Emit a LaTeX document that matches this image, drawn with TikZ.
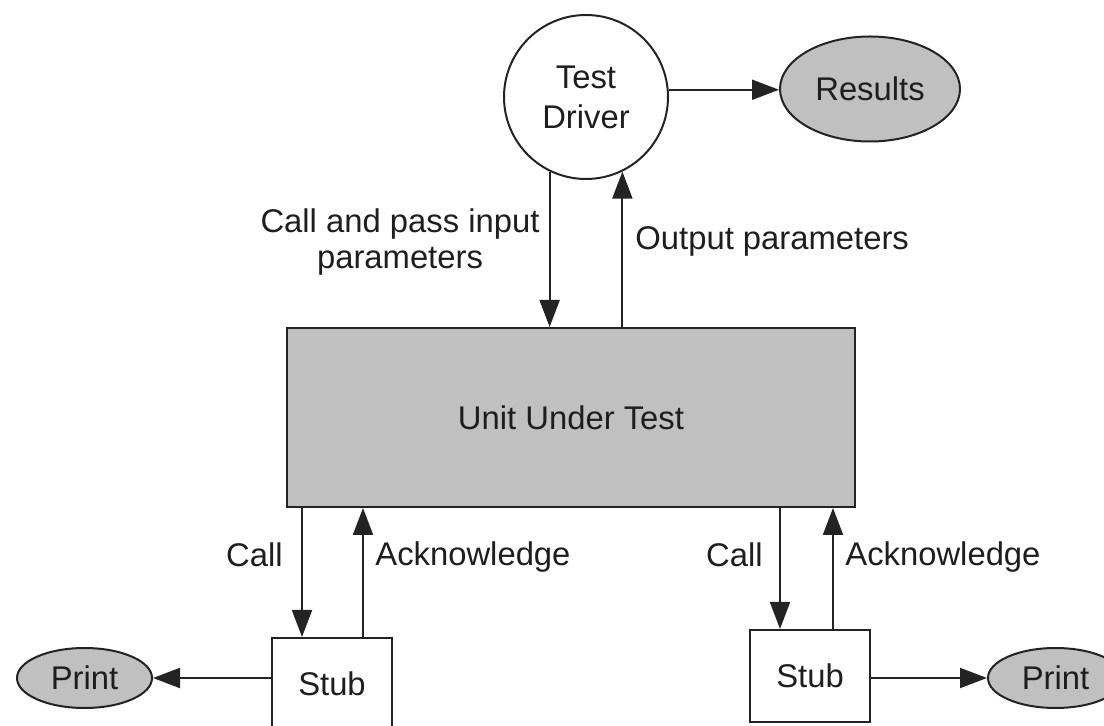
\documentclass[tikz,border=0pt]{standalone}
\usepackage{fontspec}
\setmainfont{Liberation Sans}
\usetikzlibrary{arrows.meta,shapes.geometric}
\definecolor{fillgray}{RGB}{192,192,192}
\definecolor{linecol}{RGB}{35,35,35}
\begin{document}
\begin{tikzpicture}[x=0.5pt,y=-0.5pt,
  every node/.style={font=\fontsize{16.4}{18}\selectfont, text={rgb,255:red,30;green,30;blue,30}},
  box/.style={draw=linecol, line width=1pt, inner sep=0pt},
  shade/.style={fill=fillgray},
  arr/.style={draw=linecol, line width=1pt, -{Triangle[length=13.5pt,width=10pt]}},
  lbl/.style={inner sep=0pt}
]
\useasboundingbox (0,0) rectangle (1104,726);
% nodes
\node[box, circle, minimum size=82pt, align=center, font=\fontsize{16.4}{20}\selectfont] (driver) at (586,97) {Test\\Driver};
\node[box, ellipse, shade, minimum width=90pt, minimum height=52.5pt] (results) at (870,89) {Results};
\node[box, rectangle, shade, minimum width=284pt, minimum height=89.5pt] (uut) at (571,417.5) {Unit Under Test};
\node[box, rectangle, minimum width=60pt, minimum height=46pt] (stubL) at (332,684) {Stub};
\node[box, rectangle, minimum width=60pt, minimum height=46pt] (stubR) at (810,676) {Stub};
\node[box, ellipse, shade, minimum width=67.5pt, minimum height=30pt] (printL) at (84.5,678) {Print};
\node[box, ellipse, shade, minimum width=67.5pt, minimum height=30pt] (printR) at (1055.5,678) {Print};
% helper coordinates on stubs
\coordinate (cL) at ([xshift=-15pt]stubL.north);
\coordinate (aL) at ([xshift=15.5pt]stubL.north);
\coordinate (cR) at ([xshift=-15pt]stubR.north);
\coordinate (aR) at ([xshift=11.5pt]stubR.north);
% connectors
\draw[arr] (driver.5.6) -- (driver.5.6 -| results.west);
\draw[arr] (driver.244) -- (driver.244 |- uut.north);
\draw[arr] (driver.296 |- uut.north) -- (driver.296);
\draw[arr] (cL |- uut.south) -- (cL);
\draw[arr] (aL) -- (aL |- uut.south);
\draw[arr] (cR |- uut.south) -- (cR);
\draw[arr] (aR) -- (aR |- uut.south);
\draw[arr] (stubL.west |- printL.east) -- (printL.east);
\draw[arr] (stubR.east |- printR.west) -- (printR.west);
% labels
\node[lbl, align=center] (inlbl) at (400,242) {Call and pass input\\parameters};
\node[lbl, anchor=base west] (outlbl) at (635,250) {Output parameters};
\node[lbl, anchor=base east] (callL) at (283,567) {Call};
\node[lbl, anchor=base west] (ackL) at (375,566) {Acknowledge};
\node[lbl, anchor=base east] (callR) at (763,567) {Call};
\node[lbl, anchor=base west] (ackR) at (845,566) {Acknowledge};
\end{tikzpicture}
\end{document}
